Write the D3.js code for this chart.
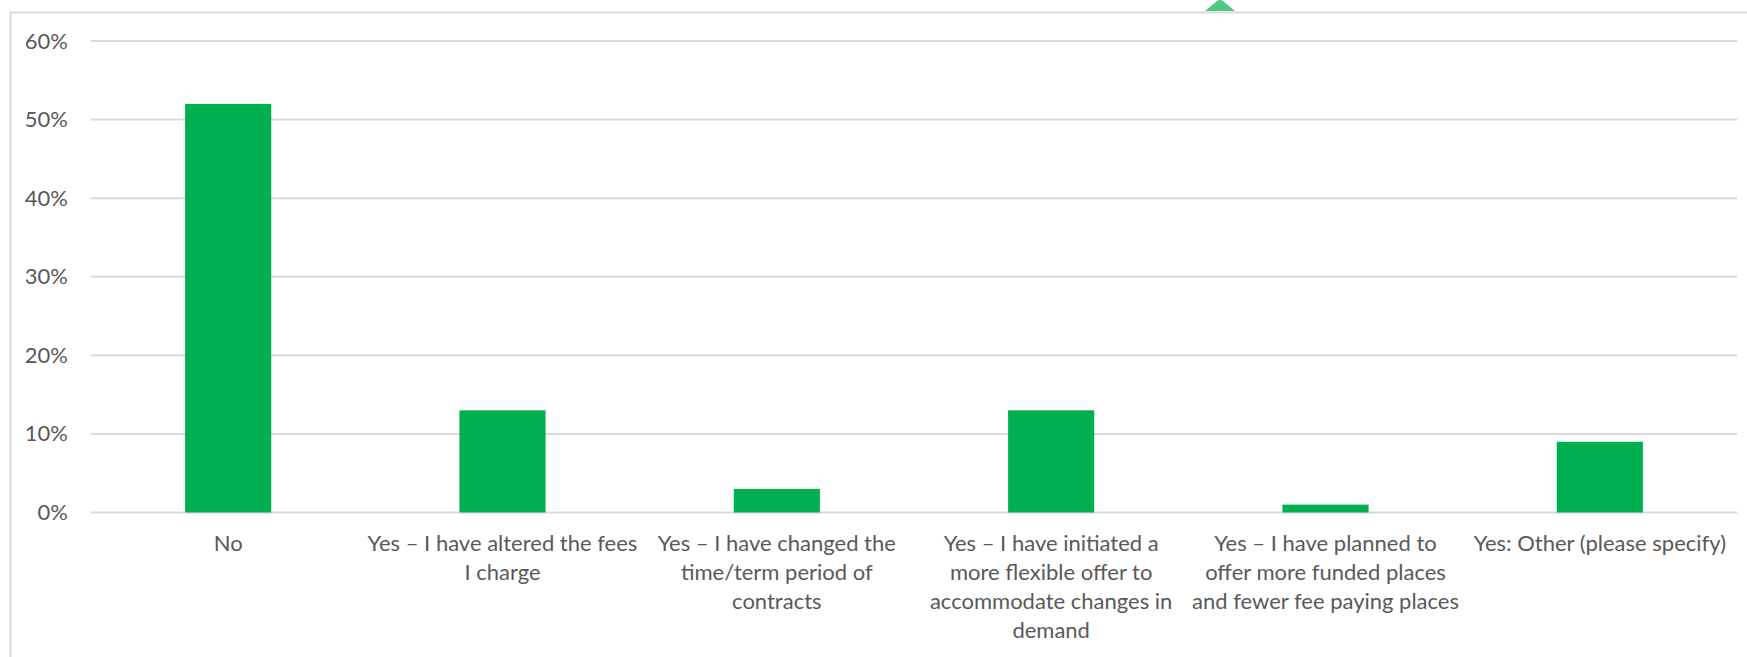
<!DOCTYPE html>
<html>
<head>
<meta charset="utf-8">
<script src="https://cdn.jsdelivr.net/npm/d3@7"></script>
<style>
  html, body { margin: 0; padding: 0; background: #fff; }
  svg { display: block; }
  text { font-family: Lato, "Open Sans", sans-serif; fill: #595959; }
</style>
</head>
<body>
<svg id="chart" width="1747" height="657"></svg>
<script>
// ---- data ----
const categories = [
  "No",
  "Yes – I have altered the fees\nI charge",
  "Yes – I have changed the\ntime/term period of\ncontracts",
  "Yes – I have initiated a\nmore flexible offer to\naccommodate changes in\ndemand",
  "Yes – I have planned to\noffer more funded places\nand fewer fee paying places",
  "Yes: Other (please specify)"
];
const values = [0.52, 0.13, 0.03, 0.13, 0.01, 0.09];
const yTicks = [0, 0.1, 0.2, 0.3, 0.4, 0.5, 0.6];

// ---- layout ----
const W = 1747, H = 657;
const plot = { left: 91, right: 1737, top: 41, bottom: 512.5 };
const barColor = "#00B050";
const gridColor = "#D9D9D9";

const svg = d3.select("#chart");

// chart frame (partially visible)
svg.append("rect")
  .attr("x", 10.5).attr("y", 12.5)
  .attr("width", W + 20).attr("height", H + 20)
  .attr("fill", "none").attr("stroke", gridColor).attr("stroke-width", 2);

// green handle at top
svg.append("path")
  .attr("d", "M1205,11 L1217,1 Q1220,-1 1223,1 L1235,11 Z")
  .attr("fill", "#4CC784");

const x = d3.scaleBand()
  .domain(categories)
  .range([plot.left, plot.right])
  .paddingInner(0.686)
  .paddingOuter(0.343);

const y = d3.scaleLinear()
  .domain([0, 0.6])
  .range([plot.bottom, plot.top]);

// gridlines
svg.append("g")
  .selectAll("line")
  .data(yTicks)
  .join("line")
  .attr("x1", plot.left).attr("x2", plot.right)
  .attr("y1", d => y(d)).attr("y2", d => y(d))
  .attr("stroke", gridColor).attr("stroke-width", 2);

// y axis labels
const yAxis = d3.axisLeft(y).tickValues(yTicks).tickFormat(d3.format(".0%")).tickSize(0).tickPadding(0);
const yg = svg.append("g").attr("transform", `translate(${plot.left - 23},0)`).call(yAxis);
yg.select(".domain").remove();
yg.selectAll("text")
  .attr("font-size", 22)
  .attr("font-family", "Lato, sans-serif")
  .attr("fill", "#595959");

// bars
svg.append("g")
  .selectAll("rect")
  .data(values)
  .join("rect")
  .attr("x", (d, i) => x(categories[i]))
  .attr("width", x.bandwidth())
  .attr("y", d => y(d))
  .attr("height", d => y(0) - y(d))
  .attr("fill", barColor);

// category labels
const lab = svg.append("g")
  .selectAll("text")
  .data(categories)
  .join("text")
  .attr("text-anchor", "middle")
  .attr("font-size", 22)
  .attr("x", d => x(d) + x.bandwidth() / 2)
  .attr("y", 551);
lab.selectAll("tspan")
  .data(d => d.split("\n").map(s => ({ s, d })))
  .join("tspan")
  .attr("x", o => x(o.d) + x.bandwidth() / 2)
  .attr("dy", (o, i) => i === 0 ? 0 : 29)
  .text(o => o.s);
</script>
</body>
</html>
